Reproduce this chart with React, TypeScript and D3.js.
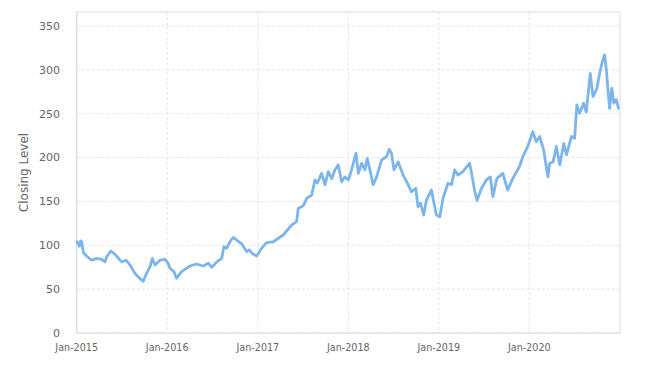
import React from "react";
import * as d3 from "d3";

const dates: string[] = [
  "2015-01-02","2015-01-08","2015-01-12","2015-01-17","2015-01-21","2015-01-28","2015-02-10","2015-03-02","2015-03-23","2015-04-12","2015-04-25","2015-05-02",
  "2015-05-19","2015-06-04","2015-07-01","2015-07-19","2015-08-04","2015-08-24","2015-09-06","2015-09-26","2015-10-10","2015-10-24",
  "2015-11-02","2015-11-13","2015-12-03","2015-12-23","2016-01-05","2016-01-12","2016-01-28","2016-02-08","2016-02-28","2016-04-02",
  "2016-04-29","2016-05-26","2016-06-15","2016-06-29","2016-07-19","2016-08-08","2016-08-17","2016-08-28","2016-09-10","2016-09-24",
  "2016-10-07","2016-10-27","2016-11-17","2016-11-27","2016-12-08","2016-12-27","2017-01-16","2017-02-05","2017-03-04","2017-04-13",
  "2017-05-17","2017-06-06","2017-06-13","2017-07-03","2017-07-17","2017-08-06","2017-08-19","2017-08-29","2017-09-15","2017-09-29",
  "2017-10-12","2017-10-26","2017-11-08","2017-11-21","2017-12-05","2017-12-18","2018-01-01","2018-01-14","2018-02-01","2018-02-10",
  "2018-02-24","2018-03-09","2018-03-18","2018-03-29","2018-04-11","2018-04-25","2018-05-15","2018-06-04","2018-06-15","2018-06-24",
  "2018-07-04","2018-07-21","2018-08-10","2018-08-24","2018-09-13","2018-09-30","2018-10-09","2018-10-19","2018-11-01","2018-11-12",
  "2018-12-02","2018-12-22","2019-01-05","2019-01-18","2019-02-07","2019-02-21","2019-03-06","2019-03-19","2019-04-08","2019-05-05",
  "2019-05-12","2019-05-25","2019-06-04","2019-06-22","2019-07-12","2019-07-28","2019-08-07","2019-08-23","2019-09-16","2019-10-06",
  "2019-10-26","2019-11-22","2019-12-06","2019-12-26","2020-01-15","2020-01-29","2020-02-12","2020-02-28","2020-03-16","2020-03-23",
  "2020-04-06","2020-04-19","2020-05-03","2020-05-19","2020-05-30","2020-06-19","2020-07-02","2020-07-11","2020-07-22","2020-08-07",
  "2020-08-18","2020-09-03","2020-09-14","2020-09-30","2020-10-11","2020-10-22","2020-10-31","2020-11-07","2020-11-13","2020-11-20",
  "2020-11-29","2020-12-07","2020-12-17","2020-12-26"
];

const closes: number[] = [
  104,101,99,105,104,91.6,87.8,83,85,84,81,87,
  93.5,90,81,83,77.5,68,64,59,68,75.6,
  85,77.5,83,84,79.5,73.8,70,62.4,70,76.4,
  78.7,76.4,79.5,75,81,85,98.5,96.5,104,109,
  106,102,92.7,94.6,91,87.8,96.5,103,104,111.7,
  123,127,142,145,153.6,157,174.5,171,182,169,
  184,176,186,191.6,172.5,178,174.5,186,205,182,
  193.5,186,199,186,169,178,197,201,209.5,205,
  186,195,180,172.5,161,165,144,148,134.5,151.6,
  163,134.5,132.6,153.6,170.7,169,186,180,184,193.5,
  184,163,151,165,174.5,178,155.4,176,182,163,
  176,189.6,201,212.7,229.5,218,224,208.7,178,193.5,
  195,212.7,191.6,216,203,224,222,260,250.5,262,
  252,296,269.5,279,296,309.6,317,300,279,256,
  279,262,266,256
];

const yTicks: number[] = [0, 50, 100, 150, 200, 250, 300, 350];
const xTickYears: number[] = [2015, 2016, 2017, 2018, 2019, 2020];
const yTitle = "Closing Level";

export default function App() {
  const W = 662, H = 366;
  const left = 76.7, right = 620, top = 12, bottom = 333;
  const parse = d3.timeParse("%Y-%m-%d");
  const data = dates.map((d, i) => ({ date: parse(d) as Date, v: closes[i] }));

  const x = d3.scaleTime()
    .domain([new Date(2015, 0, 1), new Date(2021, 0, 1)])
    .range([left, right]);
  const y = d3.scaleLinear().domain([0, 350]).range([bottom, 26]);

  const line = d3.line<{ date: Date; v: number }>()
    .x(d => x(d.date))
    .y(d => y(d.v));

  const fmt = d3.timeFormat("%b-%Y");
  const font = "DejaVu Sans, Verdana, sans-serif";

  return (
    <svg width={W} height={H} style={{ position: "absolute", left: 0, top: 0 }}>
      <rect x={0} y={0} width={W} height={H} fill="#ffffff" />
      {yTicks.map(t => (
        <line key={"gy" + t} x1={left} x2={right} y1={y(t)} y2={y(t)}
          stroke="#e6e6e6" strokeWidth={1} strokeDasharray="3,2" />
      ))}
      {xTickYears.map(yr => {
        const xx = x(new Date(yr, 0, 1));
        return (
          <line key={"gx" + yr} x1={xx} x2={xx} y1={top} y2={bottom}
            stroke="#e6e6e6" strokeWidth={1} strokeDasharray="3,2" />
        );
      })}
      <line x1={left} x2={right} y1={top} y2={top} stroke="#d8dde6" strokeWidth={1} />
      <line x1={right} x2={right} y1={top} y2={bottom} stroke="#d8dde6" strokeWidth={1} />
      <line x1={left} x2={left} y1={top} y2={bottom} stroke="#d8dde6" strokeWidth={1.5} />
      <line x1={left} x2={right} y1={bottom} y2={bottom} stroke="#ccd6eb" strokeWidth={1} />
      <path d={line(data) || ""} fill="none" stroke="#7cb5ec" strokeWidth={2.8}
        strokeLinejoin="round" strokeLinecap="round" />
      {yTicks.map(t => (
        <text key={"ty" + t} x={60} y={y(t)} dy="0.35em" textAnchor="end"
          fontFamily={font} fontSize={11} fill="#666666">{t}</text>
      ))}
      {xTickYears.map(yr => {
        const d = new Date(yr, 0, 1);
        return (
          <text key={"tx" + yr} x={x(d)} y={348} dy="0.35em" textAnchor="middle"
            fontFamily={font} fontSize={9.6} fill="#666666">{fmt(d)}</text>
        );
      })}
      <text transform={`translate(24,${(top + bottom) / 2}) rotate(-90)`} textAnchor="middle"
        dy="0.35em" fontFamily={font} fontSize={12} fill="#666666">{yTitle}</text>
    </svg>
  );
}
